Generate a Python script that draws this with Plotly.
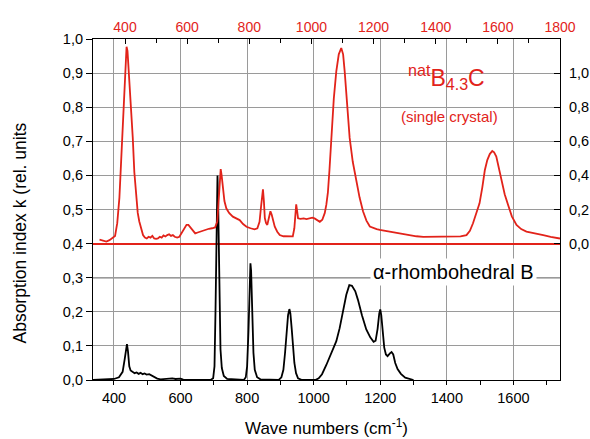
import plotly.graph_objects as go

# ---------------- data ----------------
# alpha-rhombohedral boron: bottom axis (wave number) / left axis (k)
alpha_wn = [336, 380, 400, 415, 426, 432, 436, 439, 442, 446, 450, 456, 462, 468, 474, 480,
            486, 492, 498, 506, 514, 522, 530, 540, 560, 575, 585, 600, 608,
            690, 698, 702, 705, 707, 709, 711, 713, 715, 717, 720, 724, 730, 740,
            790, 796, 800, 804, 807, 810, 812, 814, 816, 819, 823, 830, 840,
            895, 903, 909, 914, 919, 923, 927, 930, 934, 938, 942, 947, 953, 965,
            1005, 1015, 1025, 1038, 1050, 1060, 1068, 1078, 1088, 1098, 1107, 1115, 1125,
            1133, 1145, 1158, 1170, 1180, 1186, 1192, 1197, 1200, 1203, 1207, 1212, 1217,
            1222, 1229, 1234, 1239, 1245, 1252, 1262, 1275, 1290, 1300]
alpha_k = [0.0, 0.001, 0.003, 0.008, 0.024, 0.06, 0.095, 0.105, 0.085, 0.040, 0.028, 0.024,
           0.020, 0.022, 0.018, 0.021, 0.017, 0.019, 0.016, 0.017, 0.013, 0.008, 0.004, 0.002,
           0.003, 0.005, 0.003, 0.004, 0.001,
           0.0, 0.005, 0.04, 0.20, 0.40, 0.57, 0.60, 0.52, 0.35, 0.20, 0.09, 0.035, 0.012, 0.003,
           0.0, 0.008, 0.04, 0.14, 0.26, 0.342, 0.32, 0.24, 0.16, 0.08, 0.03, 0.008, 0.002,
           0.0, 0.008, 0.03, 0.08, 0.14, 0.19, 0.208, 0.195, 0.15, 0.10, 0.05, 0.02, 0.005, 0.0,
           0.0, 0.005, 0.017, 0.044, 0.07, 0.093, 0.114, 0.152, 0.20, 0.25, 0.278, 0.276, 0.26,
           0.235, 0.19, 0.148, 0.125, 0.112, 0.115, 0.15, 0.195, 0.207, 0.19, 0.14, 0.095, 0.075,
           0.07, 0.078, 0.082, 0.075, 0.05, 0.032, 0.018, 0.007, 0.002, 0.0]

# natB4.3C single crystal: top axis (wave number) / right axis (k)
b4c_wn = [318, 330, 340, 350, 360, 368, 375, 382, 388, 393, 398, 402, 405, 408, 412, 419, 425,
          430, 436, 441, 446, 452, 458, 464, 470, 476, 482, 488, 494, 500, 506, 512, 518, 524,
          530, 536, 542, 548, 554, 560, 568, 575, 582, 590, 598, 604, 610, 618, 626, 634, 642,
          650, 660, 670, 680, 690, 697, 701, 704, 708, 711, 715, 720, 726, 735, 747, 758, 769,
          780, 791, 804, 817, 826, 833, 838, 842, 844, 847, 850, 854, 858, 863, 868, 872, 877,
          882, 890, 898, 910, 925, 940, 945, 948, 951, 954, 957, 965, 975, 984, 994, 1003, 1010,
          1020, 1027, 1035, 1043, 1048, 1053, 1058, 1064, 1072, 1080, 1088, 1096, 1102, 1107,
          1115, 1123, 1133, 1145, 1155, 1166, 1177, 1188, 1200, 1210, 1220, 1235, 1250, 1265,
          1280, 1300, 1320, 1338, 1360, 1400, 1445, 1480, 1499, 1510, 1520, 1530, 1541, 1550,
          1558, 1566, 1574, 1582, 1588, 1595, 1603, 1611, 1622, 1633, 1645, 1660, 1675, 1692,
          1710, 1730, 1746, 1770, 1790, 1800]
b4c_k = [0.023, 0.015, 0.012, 0.02, 0.035, 0.045, 0.12, 0.27, 0.5, 0.72, 0.95, 1.10, 1.155, 1.13,
         1.02, 0.815, 0.62, 0.42, 0.27, 0.18, 0.13, 0.08, 0.05, 0.035, 0.03, 0.04, 0.035, 0.045,
         0.03, 0.028, 0.03, 0.04, 0.035, 0.048, 0.042, 0.05, 0.055, 0.045, 0.05, 0.04, 0.035,
         0.04, 0.06, 0.09, 0.11, 0.11, 0.095, 0.075, 0.06, 0.065, 0.07, 0.078, 0.083, 0.087,
         0.09, 0.095, 0.13, 0.25, 0.38, 0.437, 0.40, 0.314, 0.25, 0.207, 0.18, 0.158, 0.15,
         0.138, 0.115, 0.099, 0.09, 0.084, 0.09, 0.128, 0.22, 0.30, 0.318, 0.25, 0.15, 0.12,
         0.11, 0.15, 0.19, 0.17, 0.13, 0.099, 0.07, 0.05, 0.043, 0.042, 0.042, 0.09, 0.16, 0.23,
         0.19, 0.148, 0.145, 0.148, 0.144, 0.148, 0.152, 0.148, 0.135, 0.128, 0.14, 0.18, 0.228,
         0.30, 0.43, 0.62, 0.85, 1.01, 1.11, 1.147, 1.11, 1.01, 0.82, 0.62, 0.48, 0.365, 0.27,
         0.19, 0.135, 0.10, 0.09, 0.085, 0.08, 0.075, 0.07, 0.064, 0.058, 0.052, 0.046, 0.043,
         0.04, 0.04, 0.04, 0.042, 0.05, 0.075, 0.119, 0.17, 0.236, 0.33, 0.43, 0.49, 0.525,
         0.543, 0.535, 0.51, 0.44, 0.373, 0.29, 0.226, 0.16, 0.109, 0.085, 0.07, 0.062, 0.055,
         0.05, 0.04, 0.033, 0.03]

bottom_ticks = [400, 600, 800, 1000, 1200, 1400, 1600]
bottom_labels = ["400", "600", "800", "1000", "1200", "1400", "1600"]
top_ticks = [400, 600, 800, 1000, 1200, 1400, 1600, 1800]
top_labels = ["400", "600", "800", "1000", "1200", "1400", "1600", "1800"]
left_ticks = [0.0, 0.1, 0.2, 0.3, 0.4, 0.5, 0.6, 0.7, 0.8, 0.9, 1.0]
left_labels = ["0,0", "0,1", "0,2", "0,3", "0,4", "0,5", "0,6", "0,7", "0,8", "0,9", "1,0"]
right_ticks = [0.0, 0.2, 0.4, 0.6, 0.8, 1.0]
right_labels = ["0,0", "0,2", "0,4", "0,6", "0,8", "1,0"]
dark_grid = [0.3, 0.5]

RED = "#e2231a"
FONT = "Liberation Sans, Arial, sans-serif"

fig = go.Figure()
fig.add_trace(go.Scatter(x=alpha_wn, y=alpha_k, mode="lines",
                         line=dict(color="black", width=1.8), xaxis="x", yaxis="y",
                         showlegend=False, hoverinfo="skip"))
fig.add_trace(go.Scatter(x=b4c_wn, y=b4c_k, mode="lines",
                         line=dict(color=RED, width=1.8), xaxis="x2", yaxis="y2",
                         showlegend=False, hoverinfo="skip"))

shapes = []
for v in dark_grid:
    shapes.append(dict(type="line", xref="paper", yref="y", x0=0, x1=1, y0=v, y1=v,
                       line=dict(color="black", width=1.2), layer="between"))
shapes.append(dict(type="rect", xref="paper", yref="paper", x0=0.636, x1=0.878,
                   y0=0.724, y1=0.988, fillcolor="white", line=dict(width=0),
                   layer="between"))

fig.update_layout(
    width=590, height=439,
    margin=dict(l=93, r=30, t=39, b=59, autoexpand=False),
    paper_bgcolor="white", plot_bgcolor="white",
    font=dict(family=FONT, size=14, color="black"),
    showlegend=False,
    shapes=shapes,
    xaxis=dict(range=[337, 1740], tickvals=bottom_ticks, ticktext=bottom_labels,
               ticks="outside", ticklen=4, tickcolor="black", automargin=False,
               minor=dict(dtick=100, tick0=0, ticks="outside", ticklen=4, tickcolor="black",
                          showgrid=False),
               showgrid=True, gridcolor="#9a9a9a", gridwidth=1,
               showline=True, linecolor="black", linewidth=1.2, zeroline=False,
               tickfont=dict(size=14.5)),
    xaxis2=dict(range=[297, 1800], overlaying="x", side="top", anchor="y",
                tickvals=top_ticks, ticktext=top_labels, automargin=False,
                ticks="inside", ticklen=5, tickcolor="black",
                minor=dict(dtick=100, tick0=0, ticks="inside", ticklen=4, tickcolor="black",
                           showgrid=False),
                showgrid=False, showline=True, linecolor="black", linewidth=1.2,
                zeroline=False, tickfont=dict(size=14, color=RED)),
    yaxis=dict(range=[0, 1], tickvals=left_ticks, ticktext=left_labels,
               ticks="outside", ticklen=6, tickcolor="black", automargin=False,
               showgrid=True, gridcolor="#9a9a9a", gridwidth=1,
               showline=True, linecolor="black", linewidth=1.2, zeroline=False,
               tickfont=dict(size=14.5)),
    yaxis2=dict(range=[-0.8, 1.2], overlaying="y", side="right", anchor="x",
                tickvals=right_ticks, ticktext=right_labels, automargin=False,
                ticks="inside", ticklen=6, tickcolor="black", ticklabelstandoff=5,
                showgrid=False, showline=True, linecolor="black", linewidth=1.2,
                zeroline=True, zerolinecolor=RED, zerolinewidth=2,
                tickfont=dict(size=14.5)),
    annotations=[
        dict(text="<sup>nat</sup>B<sub>4.3</sub>C", xref="paper", yref="paper",
             x=0.758, y=0.889, xanchor="center", yanchor="middle", showarrow=False,
             font=dict(size=23, color=RED)),
        dict(text="(single crystal)", xref="paper", yref="paper",
             x=0.763, y=0.774, xanchor="center", yanchor="middle", showarrow=False,
             font=dict(size=15, color=RED)),
        dict(text="\u03b1-rhombohedral B", xref="paper", yref="paper",
             x=0.773, y=0.317, xanchor="center", yanchor="middle", showarrow=False,
             font=dict(size=20, color="black"), bgcolor="white", borderpad=2),
        dict(text="Absorption index k (rel. units", xref="paper", yref="paper",
             x=-0.156, y=0.430, xanchor="center", yanchor="middle", showarrow=False,
             textangle=-90, font=dict(size=17.5, color="black")),
        dict(text="Wave numbers (cm<sup>-1</sup>)", xref="paper", yref="paper",
             x=0.501, y=-0.138, xanchor="center", yanchor="middle", showarrow=False,
             font=dict(size=17, color="black")),
    ],
)

fig.write_html("out.html")
